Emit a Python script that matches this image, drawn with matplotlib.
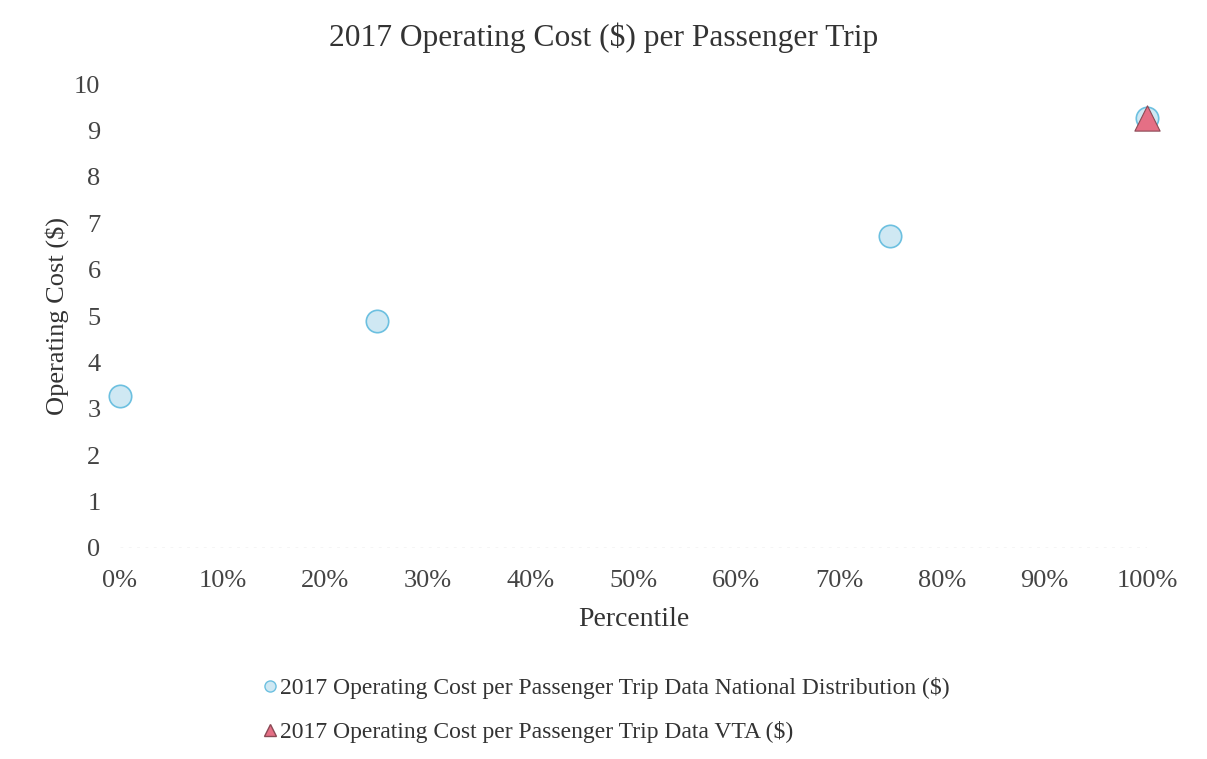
import matplotlib
matplotlib.use("Agg")
import matplotlib.pyplot as plt
from matplotlib.lines import Line2D

# data
national_pct = [0.0, 0.25, 0.75, 1.0]
national_cost = [3.28, 4.89, 6.72, 9.27]
vta_pct = [1.0]
vta_cost = [9.27]

x_ticks = [i / 10 for i in range(11)]
x_ticklabels = [f"{i * 10}%" for i in range(11)]
y_ticks = list(range(11))

plt.rcParams["font.family"] = ["Liberation Serif", "DejaVu Serif"]

fig = plt.figure(figsize=(12.07, 7.59), dpi=100)
ax = fig.add_axes([0.0994, 0.278, 0.851, 0.611])

ax.scatter(national_pct, national_cost, s=260, marker="o",
           facecolor="#cfe8f3", edgecolor="#6cc0e0", linewidth=1.2,
           clip_on=False, zorder=3)
ax.scatter(vta_pct, vta_cost, s=330, marker="^",
           facecolor="#e56f85", edgecolor="#8a4a55", linewidth=0.8,
           clip_on=False, zorder=4)

ax.set_xlim(0, 1)
ax.set_ylim(0, 10)
ax.set_xticks(x_ticks)
ax.set_xticklabels(x_ticklabels)
ax.set_yticks(y_ticks)
ax.tick_params(length=0, labelsize=19, colors="#444444")
ax.tick_params(axis="y", pad=14)
ax.tick_params(axis="x", pad=16)
for s in ax.spines.values():
    s.set_visible(False)
ax.axhline(0, color="#cccccc", lw=1, ls=(0, (2, 4)), zorder=1)

fig.suptitle("2017 Operating Cost ($) per Passenger Trip", fontsize=22.7,
             color="#333333", x=0.5, y=0.970, va="top")
ax.set_xlabel("Percentile", fontsize=20, color="#333333", labelpad=11)
ax.set_ylabel("Operating Cost ($)", fontsize=19, color="#333333", labelpad=4)

handles = [
    Line2D([], [], ls="", marker="o", markersize=8, markerfacecolor="#cfe8f3",
           markeredgecolor="#6cc0e0"),
    Line2D([], [], ls="", marker="^", markersize=8, markerfacecolor="#e56f85",
           markeredgecolor="#8a4a55"),
]
labels = [
    "2017 Operating Cost per Passenger Trip Data National Distribution ($)",
    "2017 Operating Cost per Passenger Trip Data VTA ($)",
]
fig.legend(handles, labels, loc="upper left", bbox_to_anchor=(0.198, 0.136),
           frameon=False, fontsize=17, handlelength=0.8, handletextpad=0.05,
           labelspacing=0.95, labelcolor="#333333")

fig.savefig("out.png", dpi=100)
